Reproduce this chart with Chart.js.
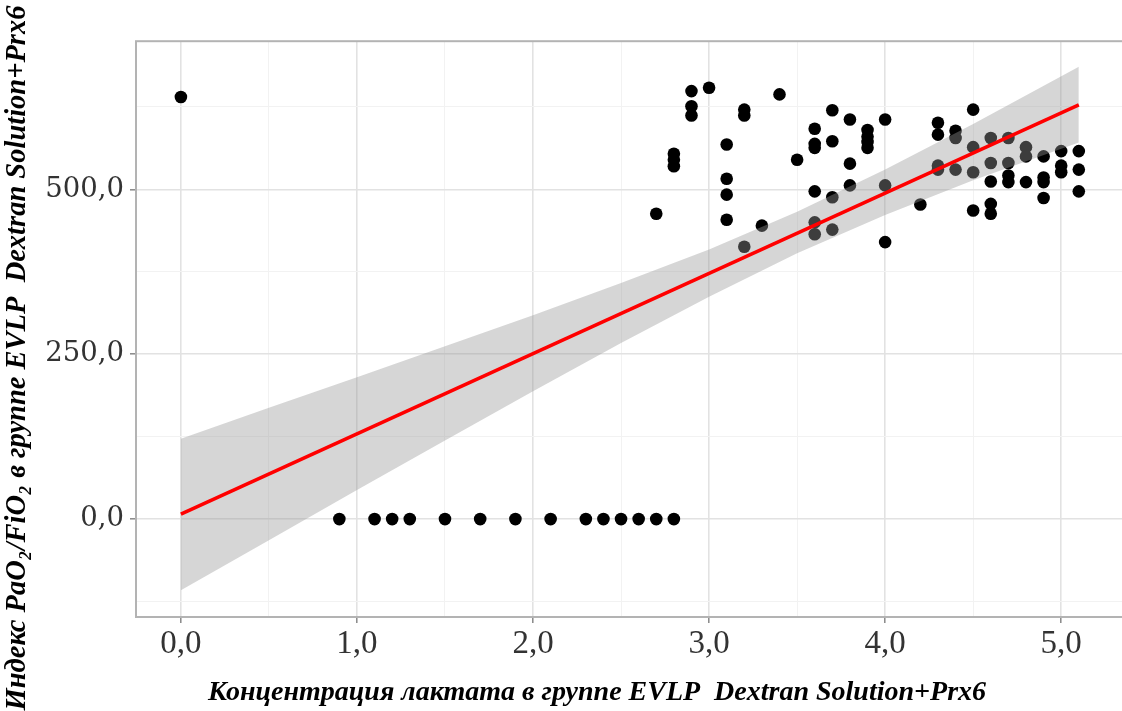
<!DOCTYPE html>
<html><head><meta charset="utf-8">
<script src="https://cdn.jsdelivr.net/npm/chart.js@4.4.1/dist/chart.umd.min.js"></script>
<style>
html,body{margin:0;padding:0;overflow:hidden;background:#fff;width:1122px;height:711px}
#wrap{width:1130px;height:711px}
</style></head>
<body><div id="wrap"><canvas id="c" width="1130" height="711"></canvas></div>
<script>
// ---- data ----
const ptX = [0,
  0.9,1.1,1.2,1.3,1.5,1.7,1.9,2.1,2.3,2.4,2.5,2.6,2.7,2.8,
  2.7, 2.8,2.8,2.8, 2.9,2.9,2.9, 3.0, 3.1,3.1,3.1,3.1, 3.2,3.2,3.2, 3.3, 3.4, 3.5,
  3.6,3.6,3.6,3.6,3.6,3.6, 3.7,3.7,3.7,3.7, 3.8,3.8,3.8, 3.9,3.9,3.9,3.9,
  4.0,4.0,4.0, 4.2, 4.3,4.3,4.3,4.3, 4.4,4.4,4.4, 4.5,4.5,4.5,4.5,
  4.6,4.6,4.6,4.6,4.6, 4.7,4.7,4.7,4.7, 4.8,4.8,4.8, 4.9,4.9,4.9,4.9,
  5.0,5.0,5.0, 5.1,5.1,5.1];
const ptY = [640,
  0,0,0,0,0,0,0,0,0,0,0,0,0,0,
  463, 554,545,535, 649,626,612, 654, 568,516,492,454, 621,612,413, 445, 644, 545,
  592,569,563,497,450,432, 620,573,488,439, 606,539,506, 590,580,572,563,
  606,506,420, 477, 601,583,536,530, 589,578,530, 621,564,526,468,
  578,540,512,478,463, 578,540,521,511, 564,550,511, 550,518,511,487,
  558,536,526, 558,530,497];

const fitX = [0, 5.1];
const fitY = [7.5, 628];

const bandX     = [0,     0.5,   1,   1.5, 2,   2.5, 3,     3.5, 4,   4.5, 5.1];
const bandUpper = [122,   169,   215, 262, 309, 358, 409,   466, 530, 599, 686];
const bandLower = [-108,  -32,   44,  119, 194, 267, 337,   403, 461, 514, 571];

const xMajorTicks = [0, 1, 2, 3, 4, 5];
const xTickLabels = ['0,0', '1,0', '2,0', '3,0', '4,0', '5,0'];
const xMinorTicks = [0.5, 1.5, 2.5, 3.5, 4.5];
const yMajorTicks = [0, 250, 500];
const yTickLabels = ['0,0', '250,0', '500,0'];
const yMinorTicks = [-125, 125, 375, 625];

const xTitle = 'Концентрация лактата в группе EVLP  Dextran Solution+Prx6';
const yTitle = 'Индекс PaO\u2082/FiO\u2082 в группе EVLP  Dextran Solution+Prx6';

// ---- build ----
const zip = (xs, ys) => xs.map((x, i) => ({x, y: ys[i]}));
const isMajor = (arr, v) => arr.some(m => Math.abs(m - v) < 1e-6);

const frame = {
  id: 'frame',
  afterDatasetsDraw(chart) {
    const a = chart.chartArea, ctx = chart.ctx;
    ctx.save();
    ctx.strokeStyle = '#b3b3b3';
    ctx.lineWidth = 2;
    ctx.strokeRect(a.left, a.top, a.right - a.left, a.bottom - a.top);
    ctx.restore();
  }
};
const titles = {
  id: 'titles',
  afterDraw(chart) {
    const ctx = chart.ctx;
    ctx.save();
    ctx.fillStyle = '#000';
    ctx.font = 'italic bold 28px "Liberation Serif"';
    ctx.textAlign = 'center';
    ctx.textBaseline = 'middle';
    ctx.fillText(xTitle, 597, 693);
    ctx.translate(18, 358);
    ctx.rotate(-Math.PI / 2);
    ctx.font = 'italic bold 28.5px "Liberation Serif"';
    ctx.fillText(yTitle, 0, 0);
    ctx.restore();
  }
};

new Chart(document.getElementById('c'), {
  type: 'scatter',
  data: {
    datasets: [
      { type: 'scatter', data: zip(ptX, ptY), backgroundColor: '#000', borderWidth: 0,
        pointRadius: 6.3, order: 3 },
      { type: 'line', data: zip(bandX, bandLower), borderWidth: 0, pointRadius: 0,
        fill: false, order: 2, borderColor: 'rgba(0,0,0,0)' },
      { type: 'line', data: zip(bandX, bandUpper), borderWidth: 0, pointRadius: 0,
        fill: '-1', backgroundColor: 'rgba(153,153,153,0.4)', borderColor: 'rgba(0,0,0,0)', order: 2 },
      { type: 'line', data: zip(fitX, fitY), borderColor: '#ff0000', borderWidth: 3.5,
        pointRadius: 0, fill: false, order: 1 }
    ]
  },
  options: {
    responsive: false,
    animation: false,
    devicePixelRatio: 1,
    layout: { padding: { top: 41.2, right: 2.1, left: 0, bottom: 0 } },
    plugins: { legend: { display: false }, tooltip: { enabled: false } },
    scales: {
      x: {
        type: 'linear', min: -0.255, max: 5.355,
        afterBuildTicks: s => { s.ticks = [...xMajorTicks, ...xMinorTicks].sort((a,b)=>a-b).map(v => ({value: v})); },
        afterFit: s => { s.height = 94; },
        border: { display: false },
        grid: {
          color: c => isMajor(xMajorTicks, c.tick.value) ? '#e2e2e2' : '#f2f2f2',
          lineWidth: c => isMajor(xMajorTicks, c.tick.value) ? 1.6 : 1,
          tickColor: c => isMajor(xMajorTicks, c.tick.value) ? '#888' : 'rgba(0,0,0,0)',
          tickLength: 6, tickWidth: 1.5
        },
        ticks: {
          autoSkip: false, maxRotation: 0, padding: 2, color: '#333',
          font: { family: 'Liberation Serif', size: 33 },
          callback: v => { const i = xMajorTicks.findIndex(m => Math.abs(m - v) < 1e-6); return i >= 0 ? xTickLabels[i] : ''; }
        }
      },
      y: {
        type: 'linear', min: -148.5, max: 724.7,
        afterBuildTicks: s => { s.ticks = [...yMajorTicks, ...yMinorTicks].sort((a,b)=>a-b).map(v => ({value: v})); },
        afterFit: s => { s.width = 136; },
        border: { display: false },
        grid: {
          color: c => isMajor(yMajorTicks, c.tick.value) ? '#e2e2e2' : '#f2f2f2',
          lineWidth: c => isMajor(yMajorTicks, c.tick.value) ? 1.6 : 1,
          tickColor: c => isMajor(yMajorTicks, c.tick.value) ? '#888' : 'rgba(0,0,0,0)',
          tickLength: 6, tickWidth: 1.5
        },
        ticks: {
          autoSkip: false, padding: 6, color: '#333',
          font: { family: 'DejaVu Serif', size: 27.5 },
          callback: v => { const i = yMajorTicks.findIndex(m => Math.abs(m - v) < 1e-6); return i >= 0 ? yTickLabels[i] : ''; }
        }
      }
    }
  },
  plugins: [frame, titles]
});
</script>
</body></html>
